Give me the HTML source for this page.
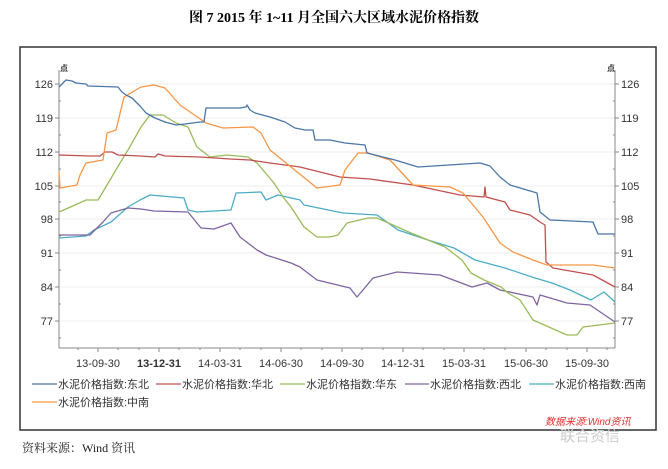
<!DOCTYPE html>
<html><head><meta charset="utf-8"><style>
body{margin:0;background:#fff;}
</style></head><body>
<svg width="668" height="464" xmlns="http://www.w3.org/2000/svg" font-family="'Liberation Sans','Noto Sans CJK SC',sans-serif">
<rect width="668" height="464" fill="#fff"/>
<text x="334" y="22" text-anchor="middle" font-family="'Liberation Serif','Noto Serif CJK SC',serif" font-weight="bold" font-size="14">图 7 2015 年 1~11 月全国六大区域水泥价格指数</text>
<rect x="20" y="47" width="636" height="383" fill="none" stroke="#333" stroke-width="1.5"/>
<g stroke="#eee" stroke-width="1">
<line x1="59" y1="84" x2="615" y2="84"/><line x1="59" y1="118" x2="615" y2="118"/><line x1="59" y1="152" x2="615" y2="152"/><line x1="59" y1="186" x2="615" y2="186"/><line x1="59" y1="219" x2="615" y2="219"/><line x1="59" y1="253" x2="615" y2="253"/><line x1="59" y1="287" x2="615" y2="287"/><line x1="59" y1="321" x2="615" y2="321"/>
</g>
<g stroke="#888" stroke-width="1" fill="none">
<line x1="59" y1="70" x2="59" y2="348"/><line x1="615" y1="70" x2="615" y2="348"/><line x1="59" y1="348" x2="615" y2="348"/>
<path d="M55 84h4M55 118h4M55 152h4M55 186h4M55 219h4M55 253h4M55 287h4M55 321h4M615 84h4M615 118h4M615 152h4M615 186h4M615 219h4M615 253h4M615 287h4M615 321h4"/>
<path d="M59 101h2M59 135h2M59 169h2M59 202h2M59 236h2M59 270h2M59 304h2M59 338h2M613 101h2M613 135h2M613 169h2M613 202h2M613 236h2M613 270h2M613 304h2M613 338h2"/>
<path d="M98 348v4M159 348v4M220 348v4M281 348v4M342 348v4M403 348v4M464 348v4M526 348v4M587 348v4"/>
<path d="M78 348v2M118 348v2M139 348v2M179 348v2M200 348v2M240 348v2M261 348v2M301 348v2M322 348v2M362 348v2M383 348v2M423 348v2M444 348v2M484 348v2M505 348v2M546 348v2M567 348v2M607 348v2"/>
</g>
<g font-size="11" fill="#333">
<text x="60" y="71" font-size="8" font-weight="bold" font-family="'Noto Sans CJK SC',sans-serif">点</text>
<text x="607" y="71" font-size="8" font-weight="bold" font-family="'Noto Sans CJK SC',sans-serif">点</text>
<g text-anchor="end"><text x="53" y="88">126</text><text x="53" y="122">119</text><text x="53" y="156">112</text><text x="53" y="190">105</text><text x="53" y="223">98</text><text x="53" y="257">91</text><text x="53" y="291">84</text><text x="53" y="325">77</text></g>
<g><text x="621" y="88">126</text><text x="621" y="122">119</text><text x="621" y="156">112</text><text x="621" y="190">105</text><text x="621" y="223">98</text><text x="621" y="257">91</text><text x="621" y="291">84</text><text x="621" y="325">77</text></g>
<g text-anchor="middle"><text x="98" y="367">13-09-30</text><text x="159" y="367" font-weight="bold">13-12-31</text><text x="220" y="367">14-03-31</text><text x="281" y="367">14-06-30</text><text x="342" y="367">14-09-30</text><text x="403" y="367">14-12-31</text><text x="464" y="367">15-03-31</text><text x="526" y="367">15-06-30</text><text x="587" y="367">15-09-30</text></g>
</g>
<g fill="none" stroke-width="1.3" stroke-linejoin="round">
<polyline stroke="#4bacc6" points="59,238 86,236 94,230 111,222 128,207 140,200 150,195 184,198 188,210 197,212 231,210 236,193 261,192 266,200 278,195 300,200 304,205 343,213 377,215 398,230 428,240 454,248 475,260 505,268 535,278 552,283 570,290 591,300 604,292 615,302"/>
<polyline stroke="#8064a2" points="59,235 90,235 103,222 111,213 128,208 141,209 154,211 188,212 201,228 214,229 231,223 240,237 257,250 266,255 291,263 300,267 317,280 350,288 357,297 363,290 373,278 397,272 440,275 472,287 487,283 500,290 533,297 537,305 540,295 567,303 590,305 615,322"/>
<polyline stroke="#9bbb59" points="59,212 75,205 86,200 98,200 110,180 120,163 128,150 141,127 150,115 163,115 176,123 188,127 197,147 210,157 227,155 248,157 257,163 274,183 283,197 291,207 304,227 317,237 330,237 338,235 347,223 368,218 377,218 411,233 445,247 462,260 471,273 484,280 501,287 508,293 520,300 533,320 567,335 577,335 583,327 615,323"/>
<polyline stroke="#c0504d" points="59,155 90,156 100,156 105,152 112,152 118,155 140,156 155,157 158,154 165,156 200,157 230,159 250,160 270,163 300,167 320,172 340,177 370,179 413,185 460,195 484,197 485,187 486,197 505,202 510,210 530,215 540,222 545,225 546,262 553,268 593,275 615,287"/>
<polyline stroke="#f79646" points="59,172 60,188 77,185 80,175 86,163 103,160 107,133 116,130 124,97 141,87 154,85 165,88 180,105 206,123 223,128 253,127 261,133 270,150 291,167 317,188 340,185 345,170 358,153 368,153 390,160 413,185 450,187 463,193 483,217 500,243 513,252 533,260 547,265 593,265 615,268"/>
<polyline stroke="#4a76a8" points="59,87 62,84 66,80 72,81 76,83 86,84 88,86 118,87 122,92 126,95 132,98 140,106 146,113 155,118 165,122 176,125 185,124 200,122 204,122 206,108 240,108 246,107 247,105 250,110 255,113 270,117 285,122 295,128 305,130 313,130 315,140 330,140 345,143 365,145 367,153 395,160 418,167 480,163 490,166 500,177 510,185 537,193 540,212 550,220 593,222 598,234 615,234"/>
</g>
<g font-size="11" fill="#333" font-family="'Liberation Sans','Noto Sans CJK SC',sans-serif">
<line x1="32" y1="384" x2="57" y2="384" stroke="#4a76a8" stroke-width="1.3"/><text x="58" y="388">水泥价格指数:东北</text>
<line x1="156" y1="384" x2="181" y2="384" stroke="#c0504d" stroke-width="1.3"/><text x="182" y="388">水泥价格指数:华北</text>
<line x1="280" y1="384" x2="305" y2="384" stroke="#9bbb59" stroke-width="1.3"/><text x="306" y="388">水泥价格指数:华东</text>
<line x1="405" y1="384" x2="429" y2="384" stroke="#8064a2" stroke-width="1.3"/><text x="430" y="388">水泥价格指数:西北</text>
<line x1="529" y1="384" x2="554" y2="384" stroke="#4bacc6" stroke-width="1.3"/><text x="555" y="388">水泥价格指数:西南</text>
<line x1="32" y1="402" x2="57" y2="402" stroke="#f79646" stroke-width="1.3"/><text x="58" y="406">水泥价格指数:中南</text>
</g>
<text x="545" y="425" font-size="10" font-style="italic" fill="#e03030" font-family="'Liberation Sans','Noto Sans CJK SC',sans-serif">数据来源:Wind资讯</text>
<text x="560" y="441" font-size="15" fill="#ccc" font-family="'Noto Sans CJK SC',sans-serif">联合资信</text>
<text x="22" y="452" font-size="12" fill="#222" font-family="'Liberation Serif','Noto Serif CJK SC',serif">资料来源：Wind 资讯</text>
</svg>
</body></html>
